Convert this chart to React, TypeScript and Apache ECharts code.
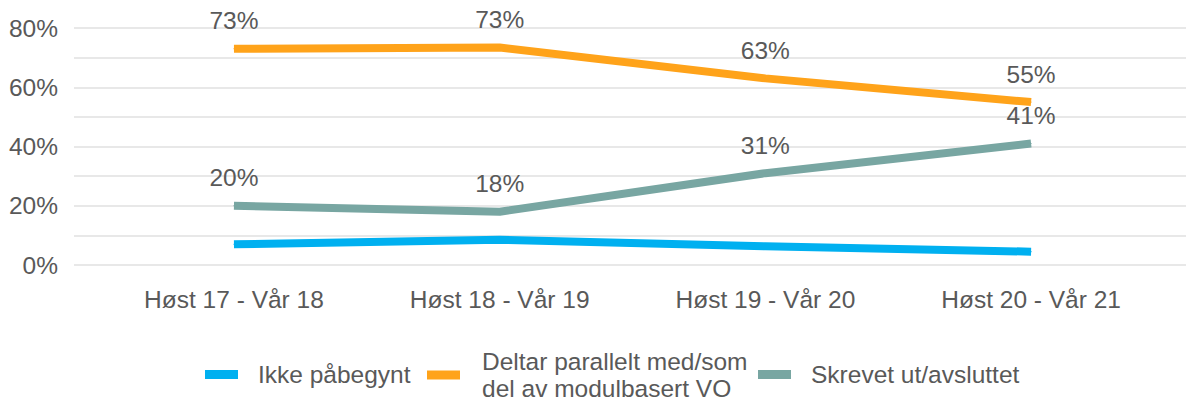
import React, { useEffect, useRef } from "react";
import * as echarts from "echarts";

const categories = ["Høst 17 - Vår 18", "Høst 18 - Vår 19", "Høst 19 - Vår 20", "Høst 20 - Vår 21"];
const seriesNames = ["Ikke påbegynt", "Deltar parallelt med/som\ndel av modulbasert VO", "Skrevet ut/avsluttet"];
const ikkePabegynt = [7, 8.5, 6.3, 4.5];
const deltarParallelt = [73, 73.4, 63, 55];
const skrevetUt = [20, 18, 31, 41];
const yTicks = [0, 20, 40, 60, 80];

const FONT = "'Liberation Sans', Arial, sans-serif";
const TEXT = "#595959";

export default function App() {
  const ref = useRef<HTMLDivElement>(null);
  useEffect(() => {
    if (!ref.current) return;
    const chart = echarts.init(ref.current, undefined, { renderer: "svg" });
    const toPts = (arr: number[]) => arr.map((v, i) => [i, v]);
    const colors = ["#00B0F0", "#FFA31A", "#78A6A2"];
    const vals = [ikkePabegynt, deltarParallelt, skrevetUt];
    const labelOn = [false, true, true];
    const legendPos = [
      { left: 205, top: 361 },
      { left: 427, top: 348 },
      { left: 758, top: 361 },
    ];
    chart.setOption({
      animation: false,
      textStyle: { fontFamily: FONT },
      grid: { left: 74, right: 0, top: 28, bottom: 136, containLabel: false },
      xAxis: {
        type: "value",
        min: -0.602,
        max: 3.583,
        axisLine: { show: false },
        axisTick: { show: false },
        splitLine: { show: false },
        axisLabel: {
          customValues: categories.map((_, i) => i),
          formatter: (v: number) => categories[Math.round(v)] ?? "",
          color: TEXT,
          fontSize: 24.5,
          fontFamily: FONT,
          margin: 22,
        },
      },
      yAxis: {
        type: "value",
        min: 0,
        max: 80,
        interval: 10,
        axisLine: { show: false },
        axisTick: { show: false },
        splitLine: { lineStyle: { color: "#E0E0E0", width: 1.5 } },
        axisLabel: {
          formatter: (v: number) => (yTicks.includes(v) ? v + "%" : ""),
          color: TEXT,
          fontSize: 24.5,
          fontFamily: FONT,
          margin: 16,
        },
      },
      legend: seriesNames.map((n, i) => ({
        data: [{ name: n, icon: "rect", itemStyle: { color: colors[i] } }],
        left: legendPos[i].left,
        top: legendPos[i].top,
        itemWidth: 33,
        itemHeight: 9,
        padding: 0,
        selectedMode: false,
        textStyle: {
          color: TEXT,
          fontSize: 24.5,
          fontFamily: FONT,
          lineHeight: 27,
          padding: [0, 0, 0, i === 1 ? 17 : 15],
        },
      })),
      series: seriesNames.map((n, i) => ({
        name: n,
        type: "line",
        data: toPts(vals[i]),
        symbol: "circle",
        symbolSize: 1,
        showSymbol: true,
        lineStyle: { color: colors[i], width: 8, cap: "butt", join: "round" },
        itemStyle: { color: colors[i] },
        label: {
          show: labelOn[i],
          position: "top",
          distance: 15,
          formatter: (p: any) => Math.round(p.value[1]) + "%",
          color: TEXT,
          fontSize: 24.5,
          fontFamily: FONT,
        },
        z: i === 1 ? 3 : 2,
      })),
    });
    return () => chart.dispose();
  }, []);
  return (
    <div
      ref={ref}
      style={{ position: "absolute", left: 0, top: 0, width: 1186, height: 401 }}
    />
  );
}
